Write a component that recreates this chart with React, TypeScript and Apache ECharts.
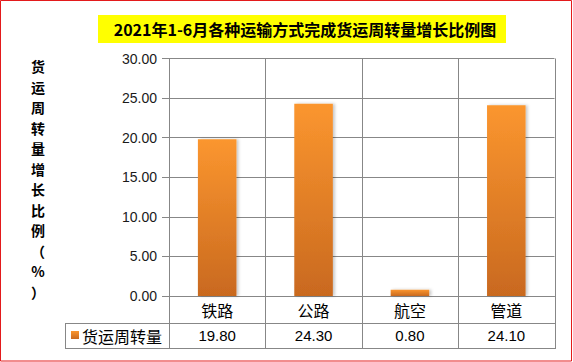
import React, { useEffect, useRef } from "react";
import * as echarts from "echarts";

const categories = ["铁路", "公路", "航空", "管道"];
const seriesName = "货运周转量";
const values = [19.8, 24.3, 0.8, 24.1];
const yTicks = { min: 0, max: 30, interval: 5 };
const titleText = "2021年1-6月各种运输方式完成货运周转量增长比例图";
const yAxisName = "货运周转量增长比例（%）";

const W = 573;
const H = 362;
const GL = 169;
const GR = 554.5;
const GT = 58.5;
const GB = 296;
const ROW1 = 323;
const ROW2 = 348;
const LEGX = 65;
const LINE = "#878787";
const CJK = '"Noto Sans CJK SC", "Noto Sans", sans-serif';
const NUM = '"Liberation Sans", Arial, sans-serif';

export default function App() {
  const ref = useRef<HTMLDivElement>(null);
  useEffect(() => {
    document.body.style.margin = "0";
    const chart = echarts.init(ref.current!, null, { renderer: "svg" });
    const n = categories.length;
    const cw = (GR - GL) / n;
    const lines: any[] = [];
    for (let i = 0; i <= n; i++) {
      const x = Math.round(GL + i * cw) + 0.5;
      lines.push({
        type: "line",
        shape: { x1: x, y1: GT, x2: x, y2: ROW2 },
        style: { stroke: LINE, lineWidth: 1 },
        z: 1,
      });
    }
    lines.push({
      type: "line",
      shape: { x1: LEGX + 0.5, y1: ROW1, x2: LEGX + 0.5, y2: ROW2 },
      style: { stroke: LINE, lineWidth: 1 },
    });
    [ROW1, ROW2].forEach((y) =>
      lines.push({
        type: "line",
        shape: { x1: LEGX, y1: y + 0.5, x2: Math.round(GR) + 1, y2: y + 0.5 },
        style: { stroke: LINE, lineWidth: 1 },
      })
    );

    const nameChars = Array.from(yAxisName).map((ch, i) => ({
      type: "text",
      x: 38,
      y: 66 + i * 20.5,
      style: {
        text: ch,
        fontFamily: CJK,
        fontWeight: "bold",
        fontSize: 14,
        fill: "#000",
        align: "center",
        verticalAlign: "middle",
      },
    }));

    chart.setOption({
      animation: false,
      backgroundColor: "#ffffff",
      grid: { left: GL, right: W - GR, top: GT, bottom: H - GB, containLabel: false },
      xAxis: {
        type: "category",
        data: categories,
        axisLine: { show: true, lineStyle: { color: LINE, width: 1 } },
        axisTick: { show: false },
        splitLine: { show: false },
        axisLabel: {
          margin: 0,
          interval: 0,
          formatter: (v: string, i: number) => `{a|${v}}\n{b|${values[i].toFixed(2)}}`,
          rich: {
            a: { fontFamily: CJK, fontSize: 16, color: "#000", lineHeight: 27, height: 27 },
            b: { fontFamily: NUM, fontSize: 15, color: "#000", lineHeight: 25, height: 25 },
          },
        },
      },
      yAxis: {
        type: "value",
        min: yTicks.min,
        max: yTicks.max,
        interval: yTicks.interval,
        axisLine: { show: true, lineStyle: { color: LINE, width: 1 } },
        axisTick: { show: true, length: 7, lineStyle: { color: LINE, width: 1 } },
        splitLine: { show: true, lineStyle: { color: LINE, width: 1 } },
        axisLabel: {
          margin: 12,
          fontFamily: NUM,
          fontSize: 14,
          color: "#1a1a1a",
          formatter: (v: number) => v.toFixed(2),
        },
      },
      series: [
        {
          name: seriesName,
          type: "bar",
          data: values,
          barWidth: "40%",
          itemStyle: {
            color: new echarts.graphic.LinearGradient(0, 0, 0, 1, [
              { offset: 0, color: "#FB962F" },
              { offset: 1, color: "#C9691F" },
            ]),
            shadowColor: "rgba(0,0,0,0.22)",
            shadowBlur: 3,
            shadowOffsetX: 2,
            shadowOffsetY: 0,
          },
          z: 3,
        },
      ],
      graphic: [
        ...lines,
        {
          type: "rect",
          shape: { x: 0.5, y: 0.5, width: W - 2, height: H - 1.5 },
          style: { fill: "none", stroke: "#E31A1C", lineWidth: 1 },
        },
        {
          type: "rect",
          shape: { x: 98, y: 15, width: 408, height: 28 },
          style: { fill: "#FFFF00" },
        },
        {
          type: "text",
          x: 305,
          y: 29,
          style: {
            text: titleText,
            fontFamily: CJK,
            fontWeight: "bold",
            fontSize: 16,
            fill: "#000",
            align: "center",
            verticalAlign: "middle",
          },
        },
        ...nameChars,
        {
          type: "rect",
          shape: { x: 71, y: 331, width: 8, height: 8 },
          style: {
            fill: new echarts.graphic.LinearGradient(0, 0, 0, 1, [
              { offset: 0, color: "#FB962F" },
              { offset: 1, color: "#C9691F" },
            ]),
          },
        },
        {
          type: "text",
          x: 82,
          y: 335.5,
          style: {
            text: seriesName,
            fontFamily: CJK,
            fontSize: 16,
            fill: "#000",
            align: "left",
            verticalAlign: "middle",
          },
        },
      ],
    });
    return () => chart.dispose();
  }, []);
  return <div ref={ref} style={{ width: W, height: H }} />;
}
